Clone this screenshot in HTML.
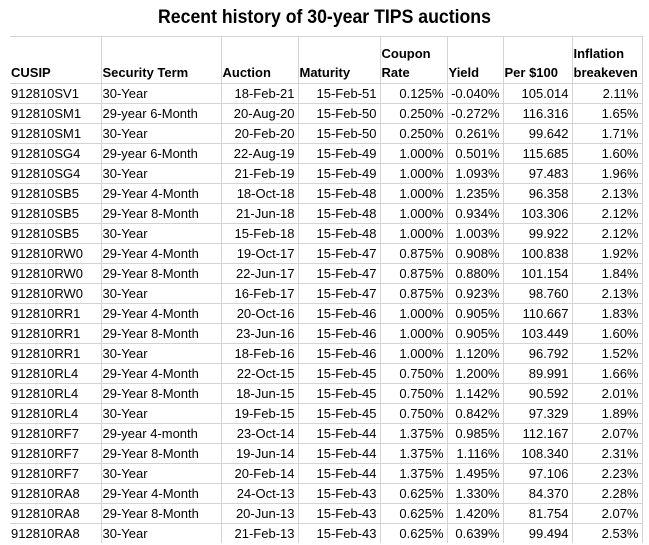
<!DOCTYPE html>
<html><head><meta charset="utf-8"><style>
body{margin:0;width:649px;height:545px;background:#fff;overflow:hidden;font-family:"Liberation Sans",Arial,sans-serif;color:#000}
.t{position:absolute;top:7px;left:0;width:649px;text-align:center;font-weight:bold;font-size:19px;transform:scaleX(0.93);}
table{position:absolute;left:10px;top:36px;border-collapse:collapse;table-layout:fixed;font-size:13px}
td{border:1px solid #d4d4d4;height:19px;padding:0 3px 0 1px;white-space:nowrap;overflow:hidden;line-height:19px}
tr td:first-child{border-left:none}
tr td:last-child{border-right:1px solid #d4d4d4}
tr:first-child td{border-top:1px solid #d4d4d4}
tr.h td{height:45px;vertical-align:bottom;font-weight:bold;line-height:19px;padding-bottom:1px}
td.r{text-align:right}
tr:last-child td{border-bottom:none}
</style></head><body>
<div class="t">Recent history of 30-year TIPS auctions</div>
<table>
<colgroup><col style="width:91px"><col style="width:120px"><col style="width:77px"><col style="width:82px"><col style="width:67px"><col style="width:56px"><col style="width:69px"><col style="width:70px"></colgroup>
<tr class="h"><td>CUSIP</td><td>Security Term</td><td>Auction</td><td>Maturity</td><td>Coupon<br>Rate</td><td>Yield</td><td>Per $100</td><td>Inflation<br>breakeven</td></tr>
<tr><td>912810SV1</td><td>30-Year</td><td class="r">18-Feb-21</td><td class="r">15-Feb-51</td><td class="r">0.125%</td><td class="r">-0.040%</td><td class="r">105.014</td><td class="r">2.11%</td></tr>
<tr><td>912810SM1</td><td>29-year 6-Month</td><td class="r">20-Aug-20</td><td class="r">15-Feb-50</td><td class="r">0.250%</td><td class="r">-0.272%</td><td class="r">116.316</td><td class="r">1.65%</td></tr>
<tr><td>912810SM1</td><td>30-Year</td><td class="r">20-Feb-20</td><td class="r">15-Feb-50</td><td class="r">0.250%</td><td class="r">0.261%</td><td class="r">99.642</td><td class="r">1.71%</td></tr>
<tr><td>912810SG4</td><td>29-year 6-Month</td><td class="r">22-Aug-19</td><td class="r">15-Feb-49</td><td class="r">1.000%</td><td class="r">0.501%</td><td class="r">115.685</td><td class="r">1.60%</td></tr>
<tr><td>912810SG4</td><td>30-Year</td><td class="r">21-Feb-19</td><td class="r">15-Feb-49</td><td class="r">1.000%</td><td class="r">1.093%</td><td class="r">97.483</td><td class="r">1.96%</td></tr>
<tr><td>912810SB5</td><td>29-Year 4-Month</td><td class="r">18-Oct-18</td><td class="r">15-Feb-48</td><td class="r">1.000%</td><td class="r">1.235%</td><td class="r">96.358</td><td class="r">2.13%</td></tr>
<tr><td>912810SB5</td><td>29-Year 8-Month</td><td class="r">21-Jun-18</td><td class="r">15-Feb-48</td><td class="r">1.000%</td><td class="r">0.934%</td><td class="r">103.306</td><td class="r">2.12%</td></tr>
<tr><td>912810SB5</td><td>30-Year</td><td class="r">15-Feb-18</td><td class="r">15-Feb-48</td><td class="r">1.000%</td><td class="r">1.003%</td><td class="r">99.922</td><td class="r">2.12%</td></tr>
<tr><td>912810RW0</td><td>29-Year 4-Month</td><td class="r">19-Oct-17</td><td class="r">15-Feb-47</td><td class="r">0.875%</td><td class="r">0.908%</td><td class="r">100.838</td><td class="r">1.92%</td></tr>
<tr><td>912810RW0</td><td>29-Year 8-Month</td><td class="r">22-Jun-17</td><td class="r">15-Feb-47</td><td class="r">0.875%</td><td class="r">0.880%</td><td class="r">101.154</td><td class="r">1.84%</td></tr>
<tr><td>912810RW0</td><td>30-Year</td><td class="r">16-Feb-17</td><td class="r">15-Feb-47</td><td class="r">0.875%</td><td class="r">0.923%</td><td class="r">98.760</td><td class="r">2.13%</td></tr>
<tr><td>912810RR1</td><td>29-Year 4-Month</td><td class="r">20-Oct-16</td><td class="r">15-Feb-46</td><td class="r">1.000%</td><td class="r">0.905%</td><td class="r">110.667</td><td class="r">1.83%</td></tr>
<tr><td>912810RR1</td><td>29-Year 8-Month</td><td class="r">23-Jun-16</td><td class="r">15-Feb-46</td><td class="r">1.000%</td><td class="r">0.905%</td><td class="r">103.449</td><td class="r">1.60%</td></tr>
<tr><td>912810RR1</td><td>30-Year</td><td class="r">18-Feb-16</td><td class="r">15-Feb-46</td><td class="r">1.000%</td><td class="r">1.120%</td><td class="r">96.792</td><td class="r">1.52%</td></tr>
<tr><td>912810RL4</td><td>29-Year 4-Month</td><td class="r">22-Oct-15</td><td class="r">15-Feb-45</td><td class="r">0.750%</td><td class="r">1.200%</td><td class="r">89.991</td><td class="r">1.66%</td></tr>
<tr><td>912810RL4</td><td>29-Year 8-Month</td><td class="r">18-Jun-15</td><td class="r">15-Feb-45</td><td class="r">0.750%</td><td class="r">1.142%</td><td class="r">90.592</td><td class="r">2.01%</td></tr>
<tr><td>912810RL4</td><td>30-Year</td><td class="r">19-Feb-15</td><td class="r">15-Feb-45</td><td class="r">0.750%</td><td class="r">0.842%</td><td class="r">97.329</td><td class="r">1.89%</td></tr>
<tr><td>912810RF7</td><td>29-year 4-month</td><td class="r">23-Oct-14</td><td class="r">15-Feb-44</td><td class="r">1.375%</td><td class="r">0.985%</td><td class="r">112.167</td><td class="r">2.07%</td></tr>
<tr><td>912810RF7</td><td>29-Year 8-Month</td><td class="r">19-Jun-14</td><td class="r">15-Feb-44</td><td class="r">1.375%</td><td class="r">1.116%</td><td class="r">108.340</td><td class="r">2.31%</td></tr>
<tr><td>912810RF7</td><td>30-Year</td><td class="r">20-Feb-14</td><td class="r">15-Feb-44</td><td class="r">1.375%</td><td class="r">1.495%</td><td class="r">97.106</td><td class="r">2.23%</td></tr>
<tr><td>912810RA8</td><td>29-Year 4-Month</td><td class="r">24-Oct-13</td><td class="r">15-Feb-43</td><td class="r">0.625%</td><td class="r">1.330%</td><td class="r">84.370</td><td class="r">2.28%</td></tr>
<tr><td>912810RA8</td><td>29-Year 8-Month</td><td class="r">20-Jun-13</td><td class="r">15-Feb-43</td><td class="r">0.625%</td><td class="r">1.420%</td><td class="r">81.754</td><td class="r">2.07%</td></tr>
<tr><td>912810RA8</td><td>30-Year</td><td class="r">21-Feb-13</td><td class="r">15-Feb-43</td><td class="r">0.625%</td><td class="r">0.639%</td><td class="r">99.494</td><td class="r">2.53%</td></tr>
</table>
</body></html>
